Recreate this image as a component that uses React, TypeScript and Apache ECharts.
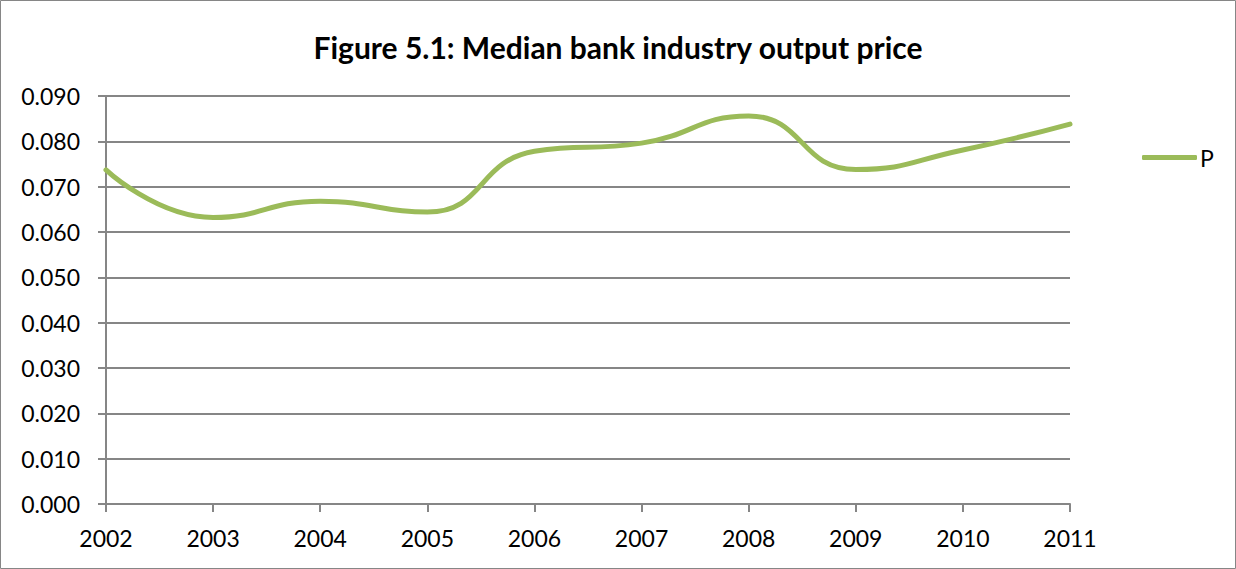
import React, { useEffect, useRef } from "react";
import * as echarts from "echarts";

const years = ["2002", "2003", "2004", "2005", "2006", "2007", "2008", "2009", "2010", "2011"];
const priceP = [0.0737, 0.0632, 0.0668, 0.0644, 0.0778, 0.0796, 0.0856, 0.0738, 0.0781, 0.0838];
const titleText = "Figure 5.1: Median bank industry output price";
const seriesName = "P";

const FONT = "Lato, 'Open Sans', sans-serif";
const GRID_COLOR = "#868686";
const LINE_COLOR = "#9BBB59";

export default function App() {
  const ref = useRef<HTMLDivElement>(null);
  useEffect(() => {
    document.body.style.margin = "0";
    const chart = echarts.init(ref.current!, null, { renderer: "svg" });
    chart.setOption({
      animation: false,
      backgroundColor: "#ffffff",
      textStyle: { fontFamily: FONT },
      title: {
        text: titleText,
        left: "center",
        top: 27,
        textStyle: { fontFamily: FONT, fontSize: 30, fontWeight: "bold", color: "#000" },
      },
      legend: {
        show: true,
        left: 1137,
        top: 141,
        itemWidth: 55,
        itemHeight: 5,
        itemGap: 4,
        data: [{ name: seriesName, icon: "roundRect", itemStyle: { color: LINE_COLOR } }],
        textStyle: { fontFamily: FONT, fontSize: 23, color: "#000", padding: [0, 0, 0, -2] },
      },
      grid: { left: 106, right: 166, top: 96, bottom: 65, containLabel: false },
      xAxis: {
        type: "category",
        data: years,
        boundaryGap: false,
        axisLine: { lineStyle: { color: GRID_COLOR, width: 2 } },
        axisTick: { show: true, length: 8, alignWithLabel: true, lineStyle: { color: GRID_COLOR, width: 2 } },
        axisLabel: { fontFamily: FONT, fontSize: 23, color: "#000", margin: 22 },
        splitLine: { show: false },
      },
      yAxis: {
        type: "value",
        min: 0,
        max: 0.09,
        interval: 0.01,
        axisLine: { show: true, lineStyle: { color: GRID_COLOR, width: 2 } },
        axisTick: { show: true, length: 8, lineStyle: { color: GRID_COLOR, width: 2 } },
        axisLabel: {
          fontFamily: FONT,
          fontSize: 23,
          color: "#000",
          margin: 26,
          formatter: (v: number) => v.toFixed(3),
        },
        splitLine: { show: true, lineStyle: { color: GRID_COLOR, width: 2 } },
      },
      series: [
        {
          name: seriesName,
          type: "line",
          data: priceP,
          smooth: 0.5,
          symbol: "none",
          lineStyle: { color: LINE_COLOR, width: 5, cap: "round" },
          itemStyle: { color: LINE_COLOR },
        },
      ],
      graphic: [
        {
          type: "rect",
          shape: { x: 0.5, y: 0.5, width: 1235, height: 568 },
          style: { fill: "none", stroke: GRID_COLOR, lineWidth: 1 },
          silent: true,
        },
      ],
    });
    return () => chart.dispose();
  }, []);
  return <div ref={ref} style={{ width: 1236, height: 569, position: "absolute", left: 0, top: 0 }} />;
}
